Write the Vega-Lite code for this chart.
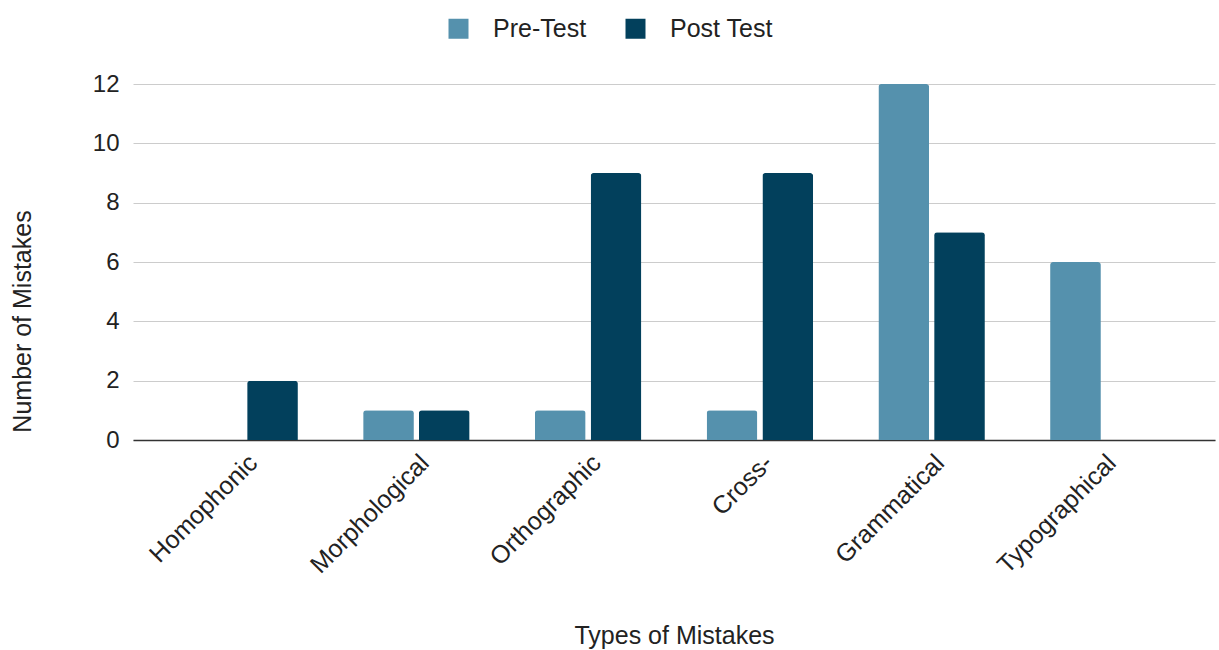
{
  "$schema": "https://vega.github.io/schema/vega-lite/v6.json",
  "width": 1082,
  "height": 356,
  "autosize": "none",
  "padding": {"left": 133, "top": 84, "right": 4, "bottom": 210},
  "background": "white",
  "config": {
    "font": "Liberation Sans",
    "view": {"stroke": null}
  },
  "data": {
    "values": [
      {"type": "Homophonic", "test": "Pre-Test", "mistakes": 0},
      {"type": "Homophonic", "test": "Post Test", "mistakes": 2},
      {"type": "Morphological", "test": "Pre-Test", "mistakes": 1},
      {"type": "Morphological", "test": "Post Test", "mistakes": 1},
      {"type": "Orthographic", "test": "Pre-Test", "mistakes": 1},
      {"type": "Orthographic", "test": "Post Test", "mistakes": 9},
      {"type": "Cross-", "test": "Pre-Test", "mistakes": 1},
      {"type": "Cross-", "test": "Post Test", "mistakes": 9},
      {"type": "Grammatical", "test": "Pre-Test", "mistakes": 12},
      {"type": "Grammatical", "test": "Post Test", "mistakes": 7},
      {"type": "Typographical", "test": "Pre-Test", "mistakes": 6},
      {"type": "Typographical", "test": "Post Test", "mistakes": 0}
    ]
  },
  "mark": {"type": "bar", "cornerRadiusTopLeft": 3, "cornerRadiusTopRight": 3},
  "encoding": {
    "x": {
      "field": "type",
      "type": "nominal",
      "sort": null,
      "title": "Types of Mistakes",
      "scale": {"paddingInner": 0.38, "paddingOuter": 0.34},
      "axis": {
        "labelAngle": -45,
        "labelFontSize": 25,
        "labelColor": "#222",
        "labelPadding": 10,
        "ticks": false,
        "domainColor": "#333",
        "domainWidth": 1.5,
        "titleFontSize": 25,
        "titleFontWeight": "normal",
        "titleColor": "#222",
        "titleX": 541,
        "titleY": 195,
        "titleBaseline": "middle",
        "titleAlign": "center"
      }
    },
    "xOffset": {
      "field": "test",
      "type": "nominal",
      "sort": ["Pre-Test", "Post Test"],
      "scale": {"paddingInner": 0.09, "paddingOuter": 0}
    },
    "y": {
      "field": "mistakes",
      "type": "quantitative",
      "title": "Number of Mistakes",
      "scale": {"domain": [0, 12]},
      "axis": {
        "values": [0, 2, 4, 6, 8, 10, 12],
        "labelFontSize": 24,
        "labelColor": "#222",
        "labelPadding": 14,
        "ticks": false,
        "domain": false,
        "gridColor": "#cccccc",
        "gridWidth": 1,
        "titleFontSize": 25,
        "titleFontWeight": "normal",
        "titleColor": "#222",
        "titleAngle": -90,
        "titleX": -111,
        "titleY": 237,
        "titleBaseline": "middle",
        "titleAlign": "center"
      }
    },
    "color": {
      "field": "test",
      "type": "nominal",
      "sort": ["Pre-Test", "Post Test"],
      "scale": {"domain": ["Pre-Test", "Post Test"], "range": ["#5591ad", "#02405c"]},
      "legend": {
        "title": null,
        "orient": "none",
        "direction": "horizontal",
        "legendX": 313,
        "legendY": -68,
        "symbolType": "square",
        "symbolSize": 400,
        "symbolStrokeWidth": 0,
        "labelFontSize": 25,
        "labelColor": "#222",
        "labelOffset": 22,
        "columnPadding": 36
      }
    }
  }
}
